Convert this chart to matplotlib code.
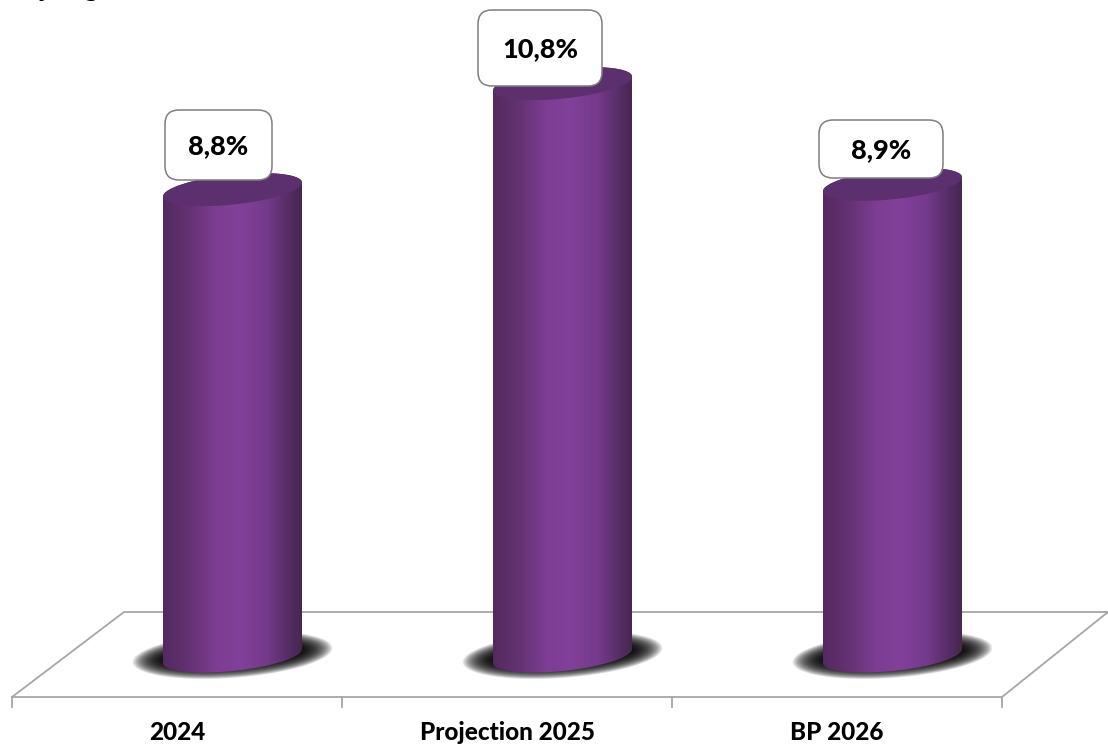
import numpy as np
import matplotlib
matplotlib.use('Agg')
import matplotlib.pyplot as plt
from matplotlib.colors import LinearSegmentedColormap
from matplotlib.patches import FancyBboxPatch, Polygon

plt.rcParams['font.family'] = ['Lato', 'DejaVu Sans']

categories = ['2024', 'Projection 2025', 'BP 2026']
values = [8.8, 10.8, 8.9]
value_labels = ['8,8%', '10,8%', '8,9%']

W, H = 1108, 749
PX_X = 330.0   # pixels per category
PX_Y = 53.0    # pixels per value unit
X0, Y0 = 177.0, 656.0  # pixel of first category, value 0

fig = plt.figure(figsize=(W / 100, H / 100), dpi=100)
ax = fig.add_axes([0, 0, 1, 1])
ax.set_xlim(-X0 / PX_X, (W - X0) / PX_X)
ax.set_ylim((Y0 - H) / PX_Y, Y0 / PX_Y)
ax.autoscale(False)
ax.axis('off')


def px(x, y):
    # pixel position (from top left) to data position
    return (x - X0) / PX_X, (Y0 - y) / PX_Y


def ellipse(cx, cy, a, b, slope=0.1):
    # tilted ellipse, all in pixels, returned in data coordinates
    t = np.linspace(0, 2 * np.pi, 200)
    x = cx + a * np.cos(t)
    y = cy - slope * a * np.cos(t) + b * np.sin(t)
    return np.column_stack(px(x, y))


# floor
grey = '#a6a6a6'
floor = [(12, 697), (124, 612), (1108, 612), (1002, 697), (12, 697)]
fx, fy = zip(*[px(*p) for p in floor])
ax.plot(fx, fy, color=grey, lw=1.3, zorder=1, solid_joinstyle='miter')
for i in range(len(categories) + 1):
    tx, ty = zip(px(12 + i * PX_X, 697), px(12 + i * PX_X, 707))
    ax.plot(tx, ty, color=grey, lw=1.3, zorder=1)

side = LinearSegmentedColormap.from_list('side', [
    (0.0, '#54295f'), (0.18, '#633272'), (0.38, '#7c3d92'), (0.55, '#82409a'),
    (0.75, '#743a8b'), (0.92, '#522c62'), (1.0, '#472752')])
grad = np.linspace(0, 1, 256).reshape(1, -1)

A, B = 69.5, 15.0
for i, val in enumerate(values):
    cx = X0 + i * PX_X + 55.5
    top = Y0 - val * PX_Y

    # soft shadow on the floor
    n = 34
    for k in range(n):
        f = k / (n - 1)
        ax.add_patch(Polygon(ellipse(cx, Y0 - 1, 100 - 32 * f, 23 - 13 * f, 0.07),
                             closed=True, fc='black', ec='none', alpha=0.07, zorder=2))

    # side of the cylinder, gradient clipped to its outline
    left, y_low = px(cx - A, Y0)
    right, y_high = px(cx + A, top)
    im = ax.imshow(grad, cmap=side, aspect='auto', zorder=3, interpolation='bilinear',
                   extent=[left, right, y_low - 30 / PX_Y, y_high + 30 / PX_Y])
    bottom = ellipse(cx, Y0, A, B)
    upper = ellipse(cx, top, A, B)
    clip = Polygon(np.vstack([bottom[:100], upper[100:]]), closed=True,
                   transform=ax.transData, fc='none', ec='none')
    ax.add_patch(clip)
    im.set_clip_path(clip)

    # top face
    ax.add_patch(Polygon(upper, closed=True, fc='#5c2f6e', ec='none', zorder=4))

# value boxes
boxes = [(165, 110, 107, 70), (478, 10, 124, 76), (819, 120, 124, 58)]
for (bx, by, bw, bh), lab in zip(boxes, value_labels):
    r = 14
    # transform=None gives pixels from bottom left
    box = FancyBboxPatch((bx + r, H - by - bh + r), bw - 2 * r, bh - 2 * r,
                         boxstyle='round,pad=%d,rounding_size=%d' % (r, r),
                         transform=None, fc='white', ec='#7f7f7f', lw=1.1, zorder=5)
    ax.add_artist(box)
    tx, ty = px(bx + bw / 2, by + bh / 2 + 1)
    ax.text(tx, ty, lab, ha='center', va='center', fontsize=19.5, fontweight='black',
            color='black', zorder=6)

# category labels
for i, cat in enumerate(categories):
    lx, ly = px(X0 + i * PX_X, 733)
    ax.text(lx, ly, cat, ha='center', va='center', fontsize=17.5, fontweight='black', color='black')

# only the descenders of the cropped title are left in the picture
for gx, ch in [(45, 'p'), (91, 'g')]:
    lx, ly = px(gx, -4)
    ax.text(lx, ly, ch, ha='center', va='baseline', fontsize=20, fontweight='black',
            color='black', clip_on=True)

fig.savefig('out.png', dpi=100, facecolor='white')
